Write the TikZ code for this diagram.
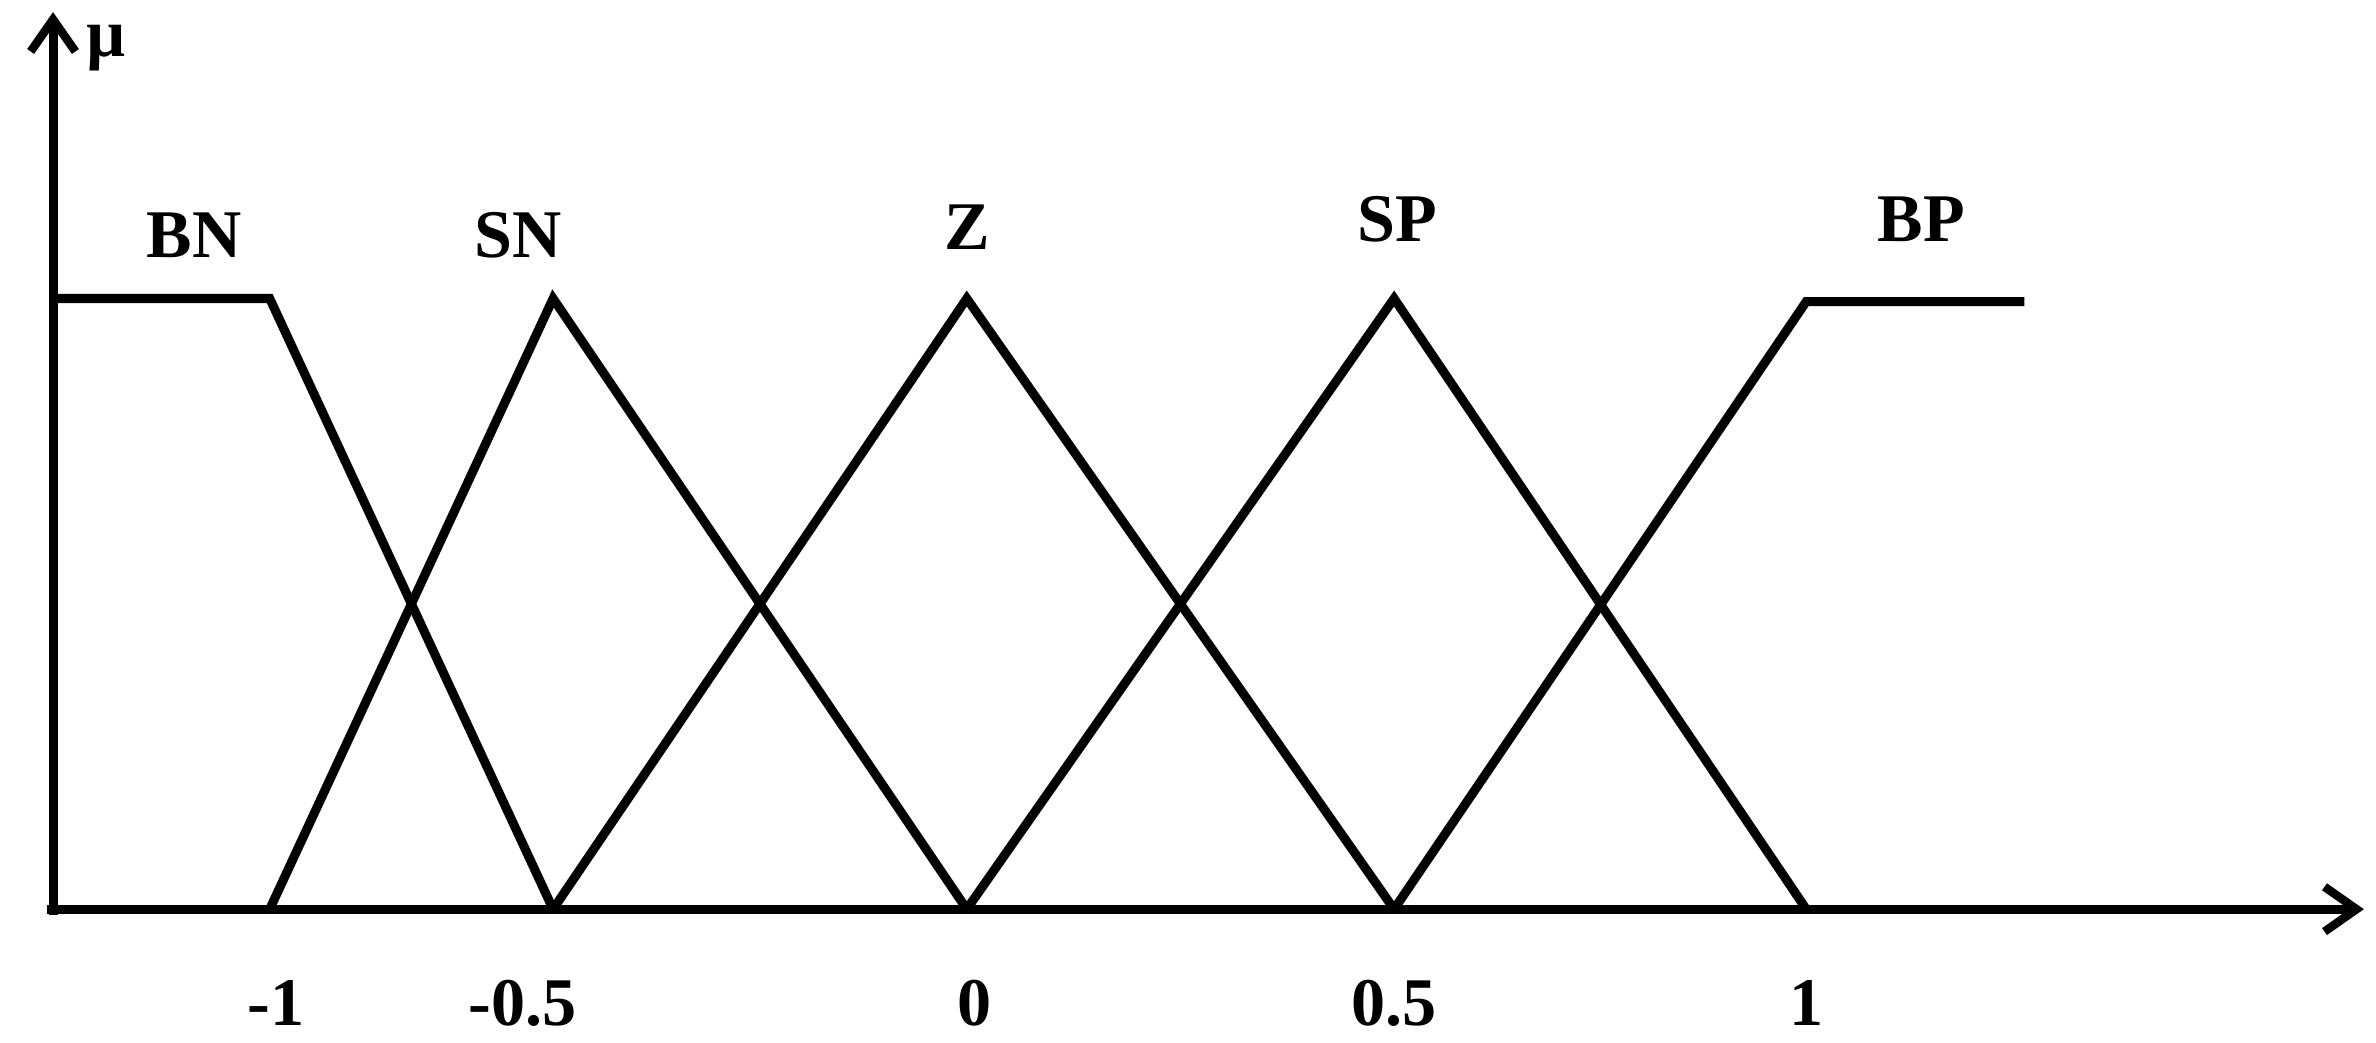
\documentclass[tikz,border=0pt]{standalone}
\usepackage{fontspec}
\setmainfont{Liberation Serif}
\usetikzlibrary{arrows.meta}
\begin{document}
\begin{tikzpicture}[x=0.05cm,y=-0.05cm,
  mf/.style={line width=8.5pt,line join=miter},
  ax/.style={line width=8.5pt,-{Straight Barb[length=30pt,width=42pt,line width=8pt]}},
  lbl/.style={font=\bfseries\fontsize{64}{70}\selectfont,inner sep=0pt}]
\useasboundingbox (0,0) rectangle (1568,688);
\coordinate (o) at (35,600);
\coordinate (yt) at (35,8);
\coordinate (xt) at (1560,600);
\draw[ax] (35,604) -- (yt);
\draw[ax] (31,600) -- (xt);
\draw[mf] (35,197) -- (178,197) -- (365,600);
\draw[mf] (178,600) -- (365,197) -- (638,600);
\draw[mf] (365,600) -- (638,197) -- (920,600);
\draw[mf] (638,600) -- (920,197) -- (1192,600);
\draw[mf] (920,600) -- (1192,199) -- (1336,199);
\node[lbl] (mu) at (70,32) {µ};
\node[lbl] (bn) at (128,155) {BN};
\node[lbl] (sn) at (342,155) {SN};
\node[lbl] (z) at (638,150) {Z};
\node[lbl] (sp) at (922,145) {SP};
\node[lbl] (bp) at (1268,145) {BP};
\node[lbl] (t1) at (182,662) {-1};
\node[lbl] (t2) at (345,662) {-0.5};
\node[lbl] (t3) at (643,662) {0};
\node[lbl] (t4) at (920,662) {0.5};
\node[lbl] (t5) at (1192,662) {1};
\end{tikzpicture}
\end{document}
